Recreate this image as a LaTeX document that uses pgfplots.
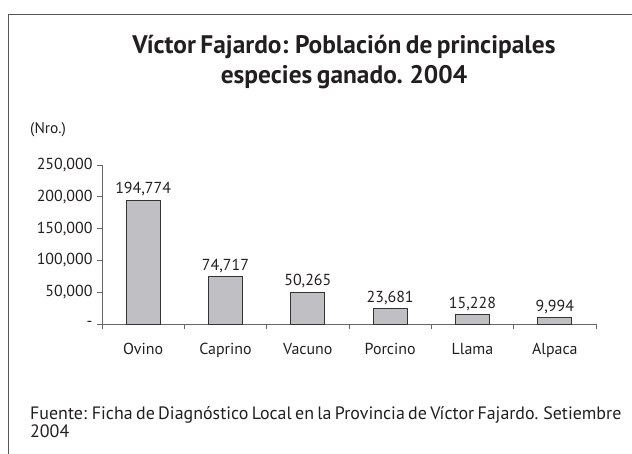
\documentclass[border=0pt]{standalone}
\usepackage{pgfplots}
\pgfplotsset{compat=1.18}
\usepackage{fontspec}
\setmainfont[WordSpace=0.7]{PT Sans}
\definecolor{framec}{HTML}{555555}
\definecolor{barfill}{HTML}{C0C0C4}
\definecolor{axisc}{HTML}{666666}
\definecolor{txt}{HTML}{231F20}
\begin{document}
\begin{tikzpicture}
\path[use as bounding box] (0,0) rectangle (632bp,-454bp);
\draw[framec, line width=1bp] (8bp,-454bp) -- (8bp,-14bp) -- (632bp,-14bp);
\node[align=center, font=\bfseries\fontsize{25.5}{29.5}\selectfont, text=txt, inner sep=0pt] at (344bp,-62bp) {Víctor Fajardo: Población de principales\\especies ganado. 2004};
\node[anchor=base west, font=\fontsize{15.5}{17}\selectfont, text=txt, inner sep=0pt] at (30bp,-133bp) {(Nro.)};
\node[anchor=base west, align=left, font=\fontsize{18}{17.5}\selectfont, text=txt, inner sep=0pt] at (30bp,-437bp) {Fuente: Ficha de Diagnóstico Local en la Provincia de Víctor Fajardo. Setiembre\\2004};
\begin{axis}[
  at={(102bp,-324bp)}, anchor=south west,
  scale only axis, width=494bp, height=159bp,
  xmin=0.5, xmax=6.5, ymin=0, ymax=250000,
  axis lines*=left,
  axis line style={axisc, line width=0.9bp},
  xtick={1,...,6},
  xticklabels={Ovino,Caprino,Vacuno,Porcino,Llama,Alpaca},
  minor xtick={0.5,1.5,...,6.5},
  major x tick style={draw=none},
  minor x tick style={axisc, line width=0.9bp},
  minor tick length=5bp,
  ytick={0,50000,100000,150000,200000,250000},
  yticklabels={{-},{50,000},{100,000},{150,000},{200,000},{250,000}},
  y tick style={axisc, line width=0.9bp},
  major tick length=5bp,
  tick align=outside,
  ticklabel style={font=\fontsize{16}{18}\selectfont, text=txt},
  xticklabel style={yshift=-11bp},
  yticklabel style={xshift=-1bp},
  scaled y ticks=false,
  nodes near coords,
  nodes near coords style={font=\fontsize{16}{18}\selectfont, text=txt, yshift=0bp},
  /pgf/number format/fixed,
  /pgf/number format/1000 sep={,},
  /pgf/number format/assume math mode=true,
  clip=false,
]
\addplot[ybar, bar width=34bp, fill=barfill, draw=black!80, line width=1bp] coordinates {
(1,194774) (2,74717) (3,50265) (4,23681) (5,15228) (6,9994)
};
\end{axis}
\end{tikzpicture}
\end{document}
